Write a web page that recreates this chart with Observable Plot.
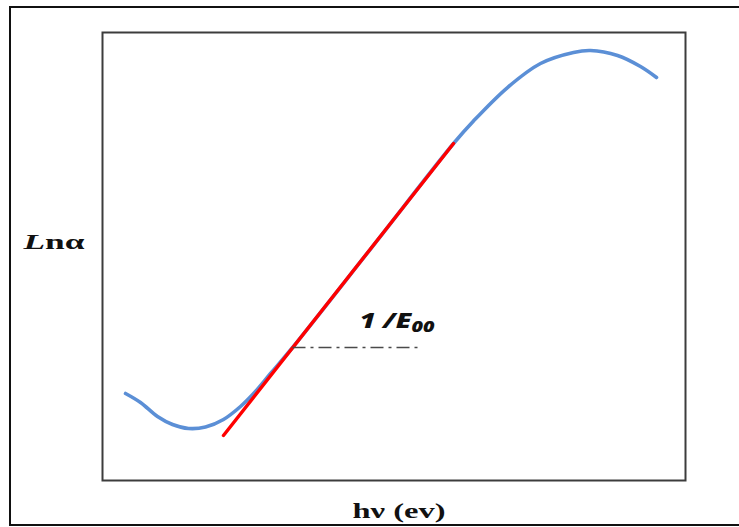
<!DOCTYPE html>
<html>
<head>
<meta charset="utf-8">
<script src="https://cdn.jsdelivr.net/npm/d3@7"></script>
<script src="https://cdn.jsdelivr.net/npm/@observablehq/plot@0.6"></script>
<style>
  html, body { margin: 0; padding: 0; background: #fff; overflow: hidden; }
  #wrap { position: relative; width: 739px; height: 527px; }
  #outer { position: absolute; left: 9px; top: 6px; width: 740px; height: 516px;
           border: 2px solid #111; border-right: none; pointer-events: none; }
</style>
</head>
<body>
<div id="wrap"><div id="outer"></div></div>
<script>
// Curve of ln(alpha) versus photon energy (arbitrary units)
const curveX = [3.95, 6.52, 9.43, 12.01, 14.75, 17.67, 20.75, 23.67, 26.24, 28.82, 32.25, 45.97, 60.21, 63.64, 69.47, 75.13, 80.79, 83.70, 88.34, 92.28, 95.03];
const curveY = [19.42, 17.41, 14.29, 12.50, 11.61, 11.94, 13.62, 16.52, 19.87, 23.88, 29.13, 51.67, 75.22, 80.25, 87.72, 93.08, 95.54, 95.98, 94.87, 92.41, 89.96];
// Linear (Urbach) fit segment
const fitX = [20.75, 60.21];
const fitY = [10.04, 75.22];
// Dash-dot reference line
const refX = [32.59, 54.72];
const refY = [29.69, 29.69];
// Labels
const slopeLabel = {x: 44.08, y: 33.93, main: "1 /E", sub: "00"};
const yLabel = "Lnα";
const xLabel = "hν (ev)";

const curve = curveX.map((x, i) => ({x, y: curveY[i]}));
const fit = fitX.map((x, i) => ({x, y: fitY[i]}));
const ref = refX.map((x, i) => ({x, y: refY[i]}));

const plot = Plot.plot({
  width: 739,
  height: 527,
  marginTop: 32,
  marginLeft: 102,
  marginRight: 54,
  marginBottom: 47,
  x: {domain: [0, 100], axis: null},
  y: {domain: [0, 100], axis: null},
  style: {background: "transparent", overflow: "visible"},
  marks: [
    Plot.frame({stroke: "#3c3c3c", strokeWidth: 2}),
    Plot.line(curve, {x: "x", y: "y", stroke: "#5b8fd6", strokeWidth: 3.6, curve: "catmull-rom"}),
    Plot.line(fit, {x: "x", y: "y", stroke: "#ff0000", strokeWidth: 3.4}),
    Plot.line(ref, {x: "x", y: "y", stroke: "#4a4a4a", strokeWidth: 1.6, strokeDasharray: "13,5,3,5", strokeLinecap: "butt"}),
    Plot.text([slopeLabel], {x: "x", y: "y", text: d => d.main + d.sub, textAnchor: "start", lineAnchor: "bottom",
      fontFamily: "Open Sans", fontWeight: 800, fontStyle: "italic", fontSize: 21, fill: "#111"}),
    Plot.text([yLabel], {frameAnchor: "left", text: d => d, textAnchor: "start", lineAnchor: "bottom", dx: -79, dy: -8,
      fontFamily: "Liberation Serif", fontWeight: "bold", fontSize: 20, fill: "#111"}),
    Plot.text([xLabel], {frameAnchor: "bottom", text: d => d, textAnchor: "middle", lineAnchor: "bottom", dx: 5, dy: 37,
      fontFamily: "Liberation Serif", fontWeight: "bold", fontSize: 22, fill: "#111"})
  ]
});

// Rich text styling (italic L, subscript 00) and horizontal stretch like the reference
d3.select(plot).selectAll("text").each(function() {
  const t = d3.select(this);
  const s = this.textContent;
  if (s === yLabel) {
    t.text(null);
    t.append("tspan").attr("font-style", "italic").text(s.slice(0, 1));
    t.append("tspan").text(s.slice(1));
    t.attr("textLength", 61).attr("lengthAdjust", "spacingAndGlyphs");
  } else if (s === xLabel) {
    t.attr("textLength", 93).attr("lengthAdjust", "spacingAndGlyphs");
  } else if (s === slopeLabel.main + slopeLabel.sub) {
    t.text(null);
    t.append("tspan").text(slopeLabel.main);
    t.append("tspan").attr("font-size", 15).attr("dy", 4).text(slopeLabel.sub);
    t.attr("textLength", 75).attr("lengthAdjust", "spacingAndGlyphs");
  }
});

document.getElementById("wrap").appendChild(plot);
</script>
</body>
</html>
